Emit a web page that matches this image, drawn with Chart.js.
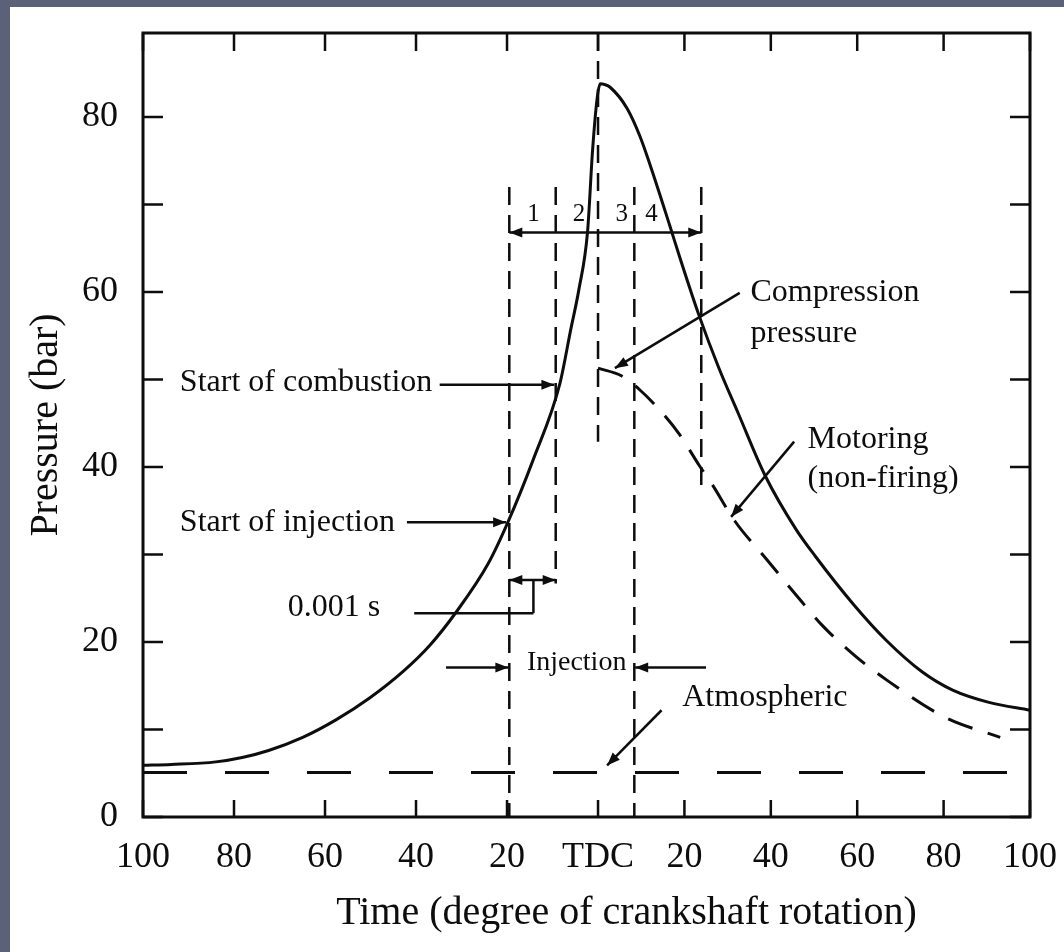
<!DOCTYPE html>
<html>
<head>
<meta charset="utf-8">
<title>Diesel cylinder pressure</title>
<script src="https://cdn.jsdelivr.net/npm/chart.js@4.4.1/dist/chart.umd.min.js"></script>
<style>
  html, body { margin: 0; padding: 0; background: #fff; }
  body { width: 1064px; height: 952px; position: relative; overflow: hidden; }
  #chart { position: absolute; left: 0; top: 0; }
  .edge { position: absolute; background: #5a6178; }
</style>
</head>
<body>
<canvas id="chart" width="1064" height="952"></canvas>
<div class="edge" style="left:0;top:0;width:1064px;height:7px"></div>
<div class="edge" style="left:0;top:0;width:10px;height:952px"></div>
<script>
// Firing curve (degrees: negative = before TDC)
const firingDeg = [-100, -93.8, -84, -78.2, -72.4, -64.9, -57.6, -50.2, -42.7, -37.0, -31.2, -24.1, -19.8, -14.2, -8.4, -6.0, -4.2, -2.3, -1.2, -0.2, 0.5, 1.6, 2.8, 6.7, 9.7, 12.0, 16.6, 18.9, 23.4, 27.9, 32.4, 38.7, 45.8, 50.3, 59.3, 66.7, 75.0, 82.1, 90.5, 100];
const firingBar = [5.9, 6.0, 6.3, 6.8, 7.6, 9.1, 11.1, 13.6, 16.7, 19.6, 23.4, 29.0, 33.7, 40.9, 49.5, 55.7, 60.3, 66.9, 76.2, 82.1, 83.8, 83.7, 83.4, 81.0, 77.8, 74.6, 67.6, 64.0, 57.3, 51.4, 46.2, 39.0, 32.9, 29.8, 24.2, 20.2, 16.6, 14.5, 13.1, 12.2];

// Motoring (non-firing) curve, only drawn after TDC
const motoringDeg = [0, 5.5, 9.7, 14.3, 18.9, 23.4, 26.3, 31.7, 39.1, 45.8, 51.9, 59.3, 66.7, 80.3, 93.1];
const motoringBar = [51.3, 50.4, 48.8, 46.5, 43.7, 40.2, 38.1, 33.8, 29.4, 25.4, 21.9, 18.5, 15.7, 11.4, 9.1];

// Atmospheric pressure line
const atmDeg = [-100, 100];
const atmBar = [5.1, 5.1];

// Vertical dashed markers (start of injection, start of combustion, TDC, end of injection, end of phase 4)
const markerDeg = [-19.5, -9.3, 0, 8.4, 23.9];
const markerTop = [72, 72, 89.6, 72, 72];
const markerBottom = [0, 26.7, 42.9, 0, 37];

// Axes
const xTickValues = [-100, -80, -60, -40, -20, 0, 20, 40, 60, 80, 100];
const xTickLabels = ['100', '80', '60', '40', '20', 'TDC', '20', '40', '60', '80', '100'];
const yTickValues = [0, 20, 40, 60, 80];
const yMinorTicks = [10, 30, 50, 70];

const ink = '#0d0d0d';
const serif = "'Liberation Serif', 'DejaVu Serif', serif";

// The original axis is drawn a little wider before TDC than after it,
// so TDC sits at a given fraction of the axis instead of the middle.
class SplitLinearScale extends Chart.LinearScale {
    static id = 'splitLinear';
    static defaults = Chart.LinearScale.defaults;

    getPixelForValue(value) {
        if (value === null || value === undefined) return NaN;
        const split = this.options.splitAt;
        const t = value <= 0
            ? split * (value - this.min) / (0 - this.min)
            : split + (1 - split) * value / this.max;
        return this.getPixelForDecimal(t);
    }

    getValueForPixel(pixel) {
        const split = this.options.splitAt;
        const t = this.getDecimalForPixel(pixel);
        return t <= split
            ? this.min + (t / split) * (0 - this.min)
            : ((t - split) / (1 - split)) * this.max;
    }
}
Chart.register(SplitLinearScale);

function pts(xs, ys) {
    return xs.map((v, i) => ({ x: v, y: ys[i] }));
}

// Straight line with optional filled arrow heads (pixel coords)
function arrowLine(ctx, x1, y1, x2, y2, heads) {
    ctx.beginPath();
    ctx.moveTo(x1, y1);
    ctx.lineTo(x2, y2);
    ctx.stroke();
    const head = (tx, ty, fx, fy) => {
        const a = Math.atan2(ty - fy, tx - fx);
        const len = 13, w = 5;
        ctx.beginPath();
        ctx.moveTo(tx, ty);
        ctx.lineTo(tx - len * Math.cos(a) + w * Math.sin(a), ty - len * Math.sin(a) - w * Math.cos(a));
        ctx.lineTo(tx - len * Math.cos(a) - w * Math.sin(a), ty - len * Math.sin(a) + w * Math.cos(a));
        ctx.closePath();
        ctx.fill();
    };
    if (heads === 'end' || heads === 'both') head(x2, y2, x1, y1);
    if (heads === 'start' || heads === 'both') head(x1, y1, x2, y2);
}

const notes = [
    { text: 'Start of combustion', x: -91.9, y: 49.6, align: 'left', size: 32 },
    { text: 'Start of injection', x: -91.9, y: 33.7, align: 'left', size: 32 },
    { text: '0.001 s', x: -68.2, y: 23.9, align: 'left', size: 32 },
    { text: 'Injection', x: -4.7, y: 17.6, align: 'center', size: 28 },
    { text: 'Atmospheric', x: 19.5, y: 13.6, align: 'left', size: 32 },
    { text: 'Compression', x: 35.3, y: 59.9, align: 'left', size: 32 },
    { text: 'pressure', x: 35.3, y: 55.3, align: 'left', size: 32 },
    { text: 'Motoring', x: 48.5, y: 43.1, align: 'left', size: 32 },
    { text: '(non-firing)', x: 48.5, y: 38.7, align: 'left', size: 32 },
    { text: '1', x: -14.2, y: 68.9, align: 'center', size: 25 },
    { text: '2', x: -4.2, y: 68.9, align: 'center', size: 25 },
    { text: '3', x: 5.5, y: 68.9, align: 'center', size: 25 },
    { text: '4', x: 12.4, y: 68.9, align: 'center', size: 25 }
];

const arrows = [
    { from: [-34.8, 49.4], to: [-9.6, 49.4], heads: 'end' },
    { from: [-42, 33.7], to: [-20.2, 33.7], heads: 'end' },
    { from: [-19.5, 27.1], to: [-9.3, 27.1], heads: 'both' },
    { from: [-14.2, 27.1], to: [-14.2, 23.3], heads: 'none' },
    { from: [-14.2, 23.3], to: [-40.4, 23.3], heads: 'none' },
    { from: [-19.5, 66.8], to: [23.9, 66.8], heads: 'both' },
    { from: [-33.4, 17.1], to: [-19.7, 17.1], heads: 'end' },
    { from: [25.0, 17.1], to: [8.6, 17.1], heads: 'end' },
    { from: [32.8, 59.9], to: [3.9, 51.3], heads: 'end' },
    { from: [45.4, 42.9], to: [30.8, 34.3], heads: 'end' },
    { from: [14.7, 12.2], to: [2.1, 5.9], heads: 'end' }
];

const figurePlugin = {
    id: 'figureNotes',
    afterDatasetsDraw(chart) {
        const { ctx, chartArea: area, scales: { x, y } } = chart;
        const X = v => x.getPixelForValue(v);
        const Y = v => y.getPixelForValue(v);
        ctx.save();
        ctx.strokeStyle = ink;
        ctx.fillStyle = ink;

        // frame
        ctx.lineWidth = 3;
        ctx.strokeRect(area.left, area.top, area.right - area.left, area.bottom - area.top);

        // inward tick marks on all four sides
        ctx.lineWidth = 2.5;
        yTickValues.concat(yMinorTicks).forEach(v => {
            const py = Y(v);
            ctx.beginPath();
            ctx.moveTo(area.left, py); ctx.lineTo(area.left + 20, py);
            ctx.moveTo(area.right, py); ctx.lineTo(area.right - 20, py);
            ctx.stroke();
        });
        xTickValues.forEach(v => {
            const pxv = X(v);
            ctx.beginPath();
            ctx.moveTo(pxv, area.bottom); ctx.lineTo(pxv, area.bottom - 17);
            ctx.moveTo(pxv, area.top); ctx.lineTo(pxv, area.top + 18);
            ctx.stroke();
        });

        // arrows and brackets
        arrows.forEach(a => arrowLine(ctx, X(a.from[0]), Y(a.from[1]), X(a.to[0]), Y(a.to[1]), a.heads));

        // text notes
        ctx.textBaseline = 'middle';
        notes.forEach(n => {
            ctx.font = n.size + 'px ' + serif;
            ctx.textAlign = n.align;
            ctx.fillText(n.text, X(n.x), Y(n.y));
        });

        // x axis title (sits right of centre in the original)
        ctx.font = '40px ' + serif;
        ctx.textAlign = 'center';
        ctx.fillText('Time (degree of crankshaft rotation)', (area.left + area.right) / 2 + 40, 913);
        ctx.restore();
    }
};

const datasets = [
    {
        label: 'Firing',
        data: pts(firingDeg, firingBar),
        borderColor: ink,
        borderWidth: 3,
        cubicInterpolationMode: 'monotone'
    },
    {
        label: 'Motoring (non-firing)',
        data: pts(motoringDeg, motoringBar),
        borderColor: ink,
        borderWidth: 3,
        borderDash: [26, 16],
        cubicInterpolationMode: 'monotone'
    },
    {
        label: 'Atmospheric',
        data: pts(atmDeg, atmBar),
        borderColor: ink,
        borderWidth: 3,
        borderDash: [44, 38]
    }
];

markerDeg.forEach((d, i) => {
    datasets.push({
        label: 'marker' + i,
        data: [{ x: d, y: markerTop[i] }, { x: d, y: markerBottom[i] }],
        borderColor: ink,
        borderWidth: 2.5,
        borderDash: [18, 10]
    });
});

new Chart(document.getElementById('chart').getContext('2d'), {
    type: 'line',
    data: { datasets: datasets },
    options: {
        responsive: false,
        animation: false,
        layout: { padding: { left: 0, top: 33, right: 34, bottom: 0 } },
        elements: { point: { radius: 0 }, line: { tension: 0 } },
        plugins: { legend: { display: false }, tooltip: { enabled: false } },
        scales: {
            x: {
                type: 'splitLinear',
                splitAt: 0.513,
                min: -100,
                max: 100,
                grid: { display: false },
                border: { display: false },
                afterBuildTicks: s => { s.ticks = xTickValues.map(v => ({ value: v })); },
                afterFit: s => { s.height = 135; s.paddingLeft = 0; s.paddingRight = 0; },
                ticks: {
                    autoSkip: false,
                    maxRotation: 0,
                    padding: 11,
                    color: ink,
                    font: { family: serif, size: 36 },
                    callback: (v) => xTickLabels[xTickValues.indexOf(v)]
                }
            },
            y: {
                type: 'linear',
                min: 0,
                max: 89.6,
                grid: { display: false },
                border: { display: false },
                afterBuildTicks: s => { s.ticks = yTickValues.map(v => ({ value: v })); },
                afterFit: s => { s.width = 143; s.paddingTop = 0; s.paddingBottom = 0; },
                ticks: {
                    padding: 17,
                    color: ink,
                    font: { family: serif, size: 36 }
                },
                title: {
                    display: true,
                    text: 'Pressure (bar)',
                    color: ink,
                    font: { family: serif, size: 40 },
                    padding: { top: 22 }
                }
            }
        }
    },
    plugins: [figurePlugin]
});
</script>
</body>
</html>
